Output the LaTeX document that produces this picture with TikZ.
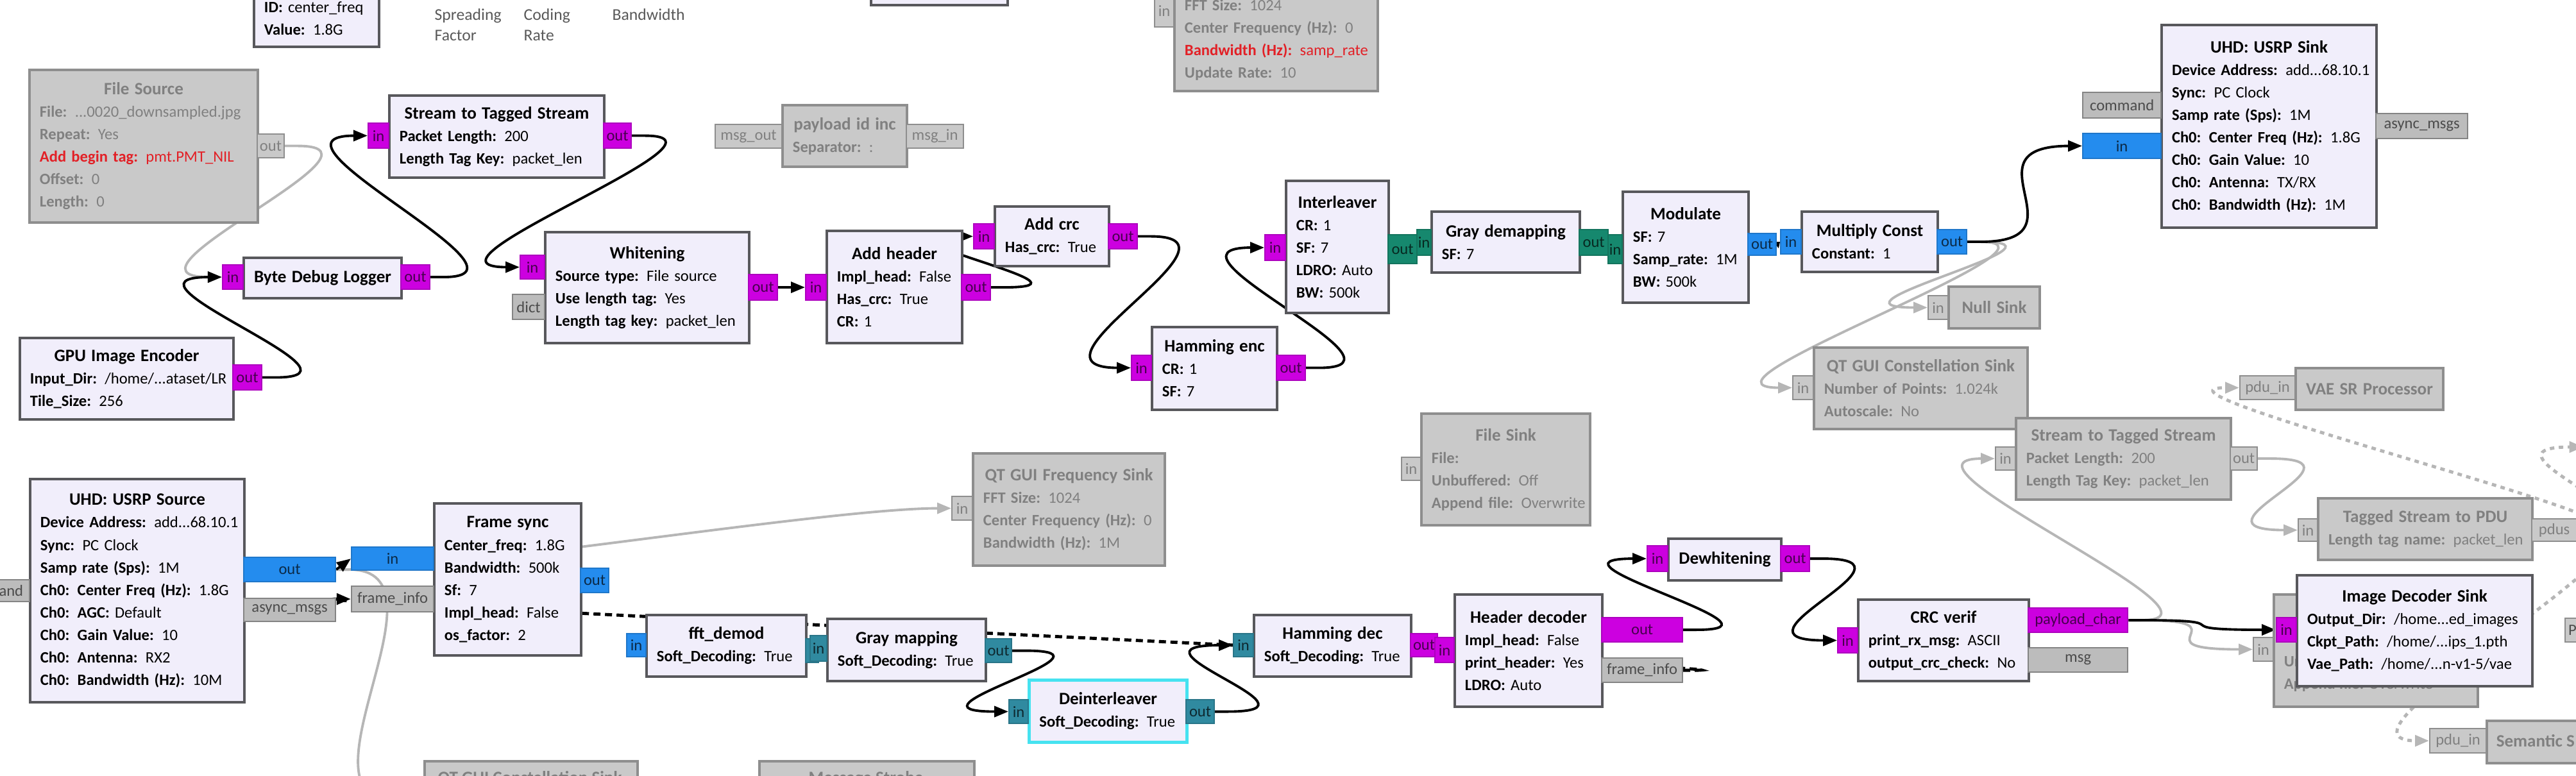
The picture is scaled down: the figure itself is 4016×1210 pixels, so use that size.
\documentclass[tikz,border=0pt]{standalone}
\usepackage{fontspec}
\setmainfont{Carlito}
\usetikzlibrary{arrows.meta,calc,backgrounds}

\definecolor{blkfill}{RGB}{241,238,251}
\definecolor{blkline}{RGB}{88,88,92}
\definecolor{offfill}{RGB}{201,201,201}
\definecolor{offline}{RGB}{142,142,142}
\definecolor{offtext}{RGB}{128,128,128}
\definecolor{bytec}{RGB}{204,0,224}
\definecolor{cplxc}{RGB}{36,140,238}
\definecolor{intc}{RGB}{22,136,110}
\definecolor{shortc}{RGB}{48,138,160}
\definecolor{msgc}{RGB}{188,188,188}
\definecolor{wiregray}{RGB}{182,182,182}
\definecolor{redtxt}{RGB}{226,32,38}
\definecolor{selc}{RGB}{70,226,240}

\newcommand\kv[2]{\mbox{\textbf{#1:} #2}}
\newcommand\ttl[1]{\makebox[\hsize]{\fontsize{7.7}{9.96}\selectfont\bfseries #1}}
\newcommand\blkfont{\fontsize{7}{9.96}\selectfont}

\begin{document}
\begin{tikzpicture}[x=0.01cm,y=-0.01cm,
  blk/.style={draw=blkline, fill=blkfill, line width=1.1pt, inner sep=0pt,
    anchor=north west, align=left, font=\blkfont},
  offblk/.style={blk, draw=offline, fill=offfill, text=offtext},
  bsize/.style 2 args={minimum width=#1cm, minimum height=#2cm, text width=#1cm-0.32cm},
  psz/.style 2 args={minimum width=#1cm, minimum height=#2cm},
  port/.style={inner sep=0pt, anchor=north west, line width=0.6pt, font=\blkfont},
  pbyte/.style={port, fill=bytec, draw=bytec!85!black, text=bytec!35!black},
  pcplx/.style={port, fill=cplxc, draw=cplxc!85!black, text=cplxc!30!black},
  pint/.style={port, fill=intc, draw=intc!85!black, text=intc!30!black},
  pshort/.style={port, fill=shortc, draw=shortc!85!black, text=shortc!30!black},
  pmsg/.style={port, fill=msgc, draw=msgc!70!black, text=black!70},
  poff/.style={port, fill=offfill, draw=offline, text=offtext},
  offtxt/.style={anchor=west, align=left, inner sep=0pt, text=offtext, font=\blkfont},
  note/.style={anchor=west, align=left, inner sep=0pt, text=black!65,
    font=\fontsize{7.3}{9.1}\selectfont},
  wire/.style={draw=black, line width=1.1pt, -{Triangle[length=0.22cm,width=0.17cm]}},
  gwire/.style={wire, draw=wiregray},
  mwire/.style={wire, dash pattern=on 0.11cm off 0.07cm, line width=1.4pt},
  gmwire/.style={gwire, dash pattern=on 0.07cm off 0.07cm, line width=1.4pt}]

\useasboundingbox (0,0) rectangle (4016,1210);
\clip (0,0) rectangle (4016,1210);

\node[note] (lblsf) at (677,39) {Spreading\\Factor};
\node[note] (lblcr) at (816,39) {Coding\\Rate};
\node[note] (lblbw) at (954,23) {Bandwidth};

\node[offblk, bsize={3.56}{2.38}] (fsrc) at (44,107) {\ttl{File Source}\\ \kv{File}{...0020\_downsampled.jpg}\\ \kv{Repeat}{Yes}\\
  \textcolor{redtxt}{\kv{Add begin tag}{pmt.PMT\_NIL}}\\ \kv{Offset}{0}\\ \kv{Length}{0}};
\node[offblk, bsize={1.94}{0.96}] (plid) at (1218,162) {\ttl{payload id inc}\\ \kv{Separator}{:}};
\node[offblk, bsize={3.17}{1.60}] (qtfreqt) at (1829,-20) {\kv{FFT Size}{1024}\\ \kv{Center Frequency (Hz)}{0}\\
  \textcolor{redtxt}{\kv{Bandwidth (Hz)}{samp\_rate}}\\ \kv{Update Rate}{10}};
\node[offblk, bsize={1.42}{0.65}] (nullsink) at (3036,445) {\ttl{Null Sink}};
\node[offblk, bsize={3.33}{1.27}] (qtconst) at (2826,540) {\ttl{QT GUI Constellation Sink}\\ \kv{Number of Points}{1.024k}\\ \kv{Autoscale}{No}};
\node[offblk, bsize={3.35}{1.27}] (sts2) at (3141,650) {\ttl{Stream to Tagged Stream}\\ \kv{Packet Length}{200}\\ \kv{Length Tag Key}{packet\_len}};
\node[offblk, bsize={2.30}{0.65}] (vaesr) at (3577,572) {\ttl{VAE SR Processor}};
\node[offblk, bsize={3.34}{0.96}] (ts2pdu) at (3612,775) {\ttl{Tagged Stream to PDU}\\ \kv{Length tag name}{packet\_len}};
\node[offblk, bsize={2.63}{1.74}] (fsink1) at (2214,643) {\ttl{File Sink}\\ \kv{File}{}\\ \kv{Unbuffered}{Off}\\ \kv{Append file}{Overwrite}};
\node[offblk, bsize={2.99}{1.75}] (qtfreq2) at (1515,705) {\ttl{QT GUI Frequency Sink}\\ \kv{FFT Size}{1024}\\
  \kv{Center Frequency (Hz)}{0}\\ \kv{Bandwidth (Hz)}{1M}};
\node[offblk, bsize={3.32}{0.80}] (qtc2) at (660,1185) {};
\node[offtxt, anchor=center, font=\fontsize{7.7}{9.96}\selectfont\bfseries] (qtc2-t) at (826,1214) {QT GUI Constellation Sink};
\node[offblk, bsize={3.35}{0.80}] (msgstr) at (1182,1185) {};
\node[offtxt, anchor=center, font=\fontsize{7.7}{9.96}\selectfont\bfseries] (msgstr-t) at (1350,1214) {Message Strobe};
\node[offblk, bsize={3.18}{1.75}] (fsink2) at (3543,925) {};
\node[offtxt] (fsink2-t) at (3560,1050) {\kv{Unbuffered}{Off}\\ \kv{Append file}{Overwrite}};
\node[offblk, bsize={2.00}{0.66}] (semantic) at (3875,1122) {};
\node[offtxt, font=\fontsize{7.7}{9.96}\selectfont\bfseries] (semantic-t) at (3891,1155) {Semantic S};
\node[poff, text=black!70, minimum height=0.37cm, text width=0.3cm, align=left] (pcut) at (3998,963) {\hspace{0.05cm}P};

\node[poff, psz={0.42}{0.37}] (fsrc-out) at (400,208) {out};
\node[poff, psz={1.04}{0.37}] (plid-out) at (1114,193) {msg\_out};
\node[poff, psz={0.89}{0.37}] (plid-in) at (1412,193) {msg\_in};
\node[poff, psz={0.30}{0.51}] (qtfreqt-in) at (1799,-10) {in};
\node[poff, psz={0.31}{0.37}] (null-in) at (3005,460) {in};
\node[poff, psz={0.32}{0.37}] (qtconst-in) at (2794,585) {in};
\node[poff, psz={0.31}{0.36}] (sts2-in) at (3110,696) {in};
\node[poff, psz={0.42}{0.36}] (sts2-out) at (3476,696) {out};
\node[poff, psz={0.86}{0.37}] (vaesr-in) at (3491,585) {pdu\_in};
\node[poff, psz={0.30}{0.35}] (ts2pdu-in) at (3582,808) {in};
\node[poff, psz={0.70}{0.35}] (ts2pdu-pdus) at (3946,808) {pdus};
\node[poff, psz={0.88}{0.38}] (semantic-in) at (3787,1135) {pdu\_in};
\node[poff, psz={0.31}{0.37}] (fsink2-in) at (3512,993) {in};
\node[poff, psz={0.30}{0.36}] (fsink1-in) at (2184,712) {in};
\node[poff, psz={0.32}{0.37}] (qtfreq2-in) at (1483,773) {in};
\node[inner sep=0pt] (qtc2in) at (640,1250) {};
\node[inner sep=0pt] (rcut) at (4030,697) {};

\node[blk, bsize={1.95}{0.88}] (varcf) at (394,-17) {\kv{ID}{center\_freq}\\ \kv{Value}{1.8G}};
\node[blk, bsize={2.13}{0.66}] (topbox) at (1356,-60) {};
\node[blk, bsize={3.35}{1.28}] (sts) at (605,147) {\ttl{Stream to Tagged Stream}\\ \kv{Packet Length}{200}\\ \kv{Length Tag Key}{packet\_len}};
\node[blk, bsize={2.46}{0.63}] (bdl) at (378,400) {\ttl{Byte Debug Logger}};
\node[blk, bsize={3.33}{1.27}] (gpu) at (29,525) {\ttl{GPU Image Encoder}\\ \kv{Input\_Dir}{/home/...ataset/LR}\\ \kv{Tile\_Size}{256}};
\node[blk, bsize={3.18}{1.73}] (white) at (848,360) {\ttl{Whitening}\\ \kv{Source type}{File source}\\ \kv{Use length tag}{Yes}\\ \kv{Length tag key}{packet\_len}};
\node[blk, bsize={2.11}{1.75}] (addh) at (1287,358) {\ttl{Add header}\\ \kv{Impl\_head}{False}\\ \kv{Has\_crc}{True}\\ \kv{CR}{1}};
\node[blk, bsize={1.78}{0.93}] (addcrc) at (1549,320) {\ttl{Add crc}\\ \kv{Has\_crc}{True}};
\node[blk, bsize={1.95}{1.29}] (hamenc) at (1794,508) {\ttl{Hamming enc}\\ \kv{CR}{1}\\ \kv{SF}{7}};
\node[blk, bsize={1.60}{2.06}] (inter) at (2003,280) {\ttl{Interleaver}\\ \kv{CR}{1}\\ \kv{SF}{7}\\ \kv{LDRO}{Auto}\\ \kv{BW}{500k}};
\node[blk, bsize={2.31}{0.95}] (graydm) at (2230,328) {\ttl{Gray demapping}\\ \kv{SF}{7}};
\node[blk, bsize={1.96}{1.73}] (mod) at (2528,297) {\ttl{Modulate}\\ \kv{SF}{7}\\ \kv{Samp\_rate}{1M}\\ \kv{BW}{500k}};
\node[blk, bsize={2.12}{0.94}] (mulc) at (2807,328) {\ttl{Multiply Const}\\ \kv{Constant}{1}};
\node[blk, bsize={3.35}{3.16}] (usrpsink) at (3368,37) {\ttl{UHD: USRP Sink}\\ \kv{Device Address}{add...68.10.1}\\ \kv{Sync}{PC Clock}\\
  \kv{Samp rate (Sps)}{1M}\\ \kv{Ch0: Center Freq (Hz)}{1.8G}\\ \kv{Ch0: Gain Value}{10}\\ \kv{Ch0: Antenna}{TX/RX}\\ \kv{Ch0: Bandwidth (Hz)}{1M}};
\node[blk, bsize={3.34}{3.48}] (usrpsrc) at (45,745) {\ttl{UHD: USRP Source}\\ \kv{Device Address}{add...68.10.1}\\ \kv{Sync}{PC Clock}\\
  \kv{Samp rate (Sps)}{1M}\\ \kv{Ch0: Center Freq (Hz)}{1.8G}\\ \kv{Ch0: AGC}{Default}\\ \kv{Ch0: Gain Value}{10}\\
  \kv{Ch0: Antenna}{RX2}\\ \kv{Ch0: Bandwidth (Hz)}{10M}};
\node[blk, bsize={2.29}{2.37}] (fsync) at (675,783) {\ttl{Frame sync}\\ \kv{Center\_freq}{1.8G}\\ \kv{Bandwidth}{500k}\\ \kv{Sf}{7}\\
  \kv{Impl\_head}{False}\\ \kv{os\_factor}{2}};
\node[blk, bsize={2.49}{0.96}] (fft) at (1006,957) {\ttl{fft\_demod}\\ \kv{Soft\_Decoding}{True}};
\node[blk, bsize={2.47}{0.97}] (graym) at (1288,963) {\ttl{Gray mapping}\\ \kv{Soft\_Decoding}{True}};
\node[blk, draw=selc, line width=1.4pt, bsize={2.46}{0.97}] (deint) at (1602,1058) {\ttl{Deinterleaver}\\ \kv{Soft\_Decoding}{True}};
\node[blk, bsize={2.45}{0.96}] (hamdec) at (1953,957) {\ttl{Hamming dec}\\ \kv{Soft\_Decoding}{True}};
\node[blk, bsize={2.30}{1.75}] (hdec) at (2266,925) {\ttl{Header decoder}\\ \kv{Impl\_head}{False}\\ \kv{print\_header}{Yes}\\ \kv{LDRO}{Auto}};
\node[blk, bsize={1.76}{0.65}] (dewh) at (2599,838) {\ttl{Dewhitening}};
\node[blk, bsize={2.66}{1.27}] (crc) at (2895,933) {\ttl{CRC verif}\\ \kv{print\_rx\_msg}{ASCII}\\ \kv{output\_crc\_check}{No}};
\node[blk, bsize={3.67}{1.73}] (imgdec) at (3579,895) {\ttl{Image Decoder Sink}\\ \kv{Output\_Dir}{/home...ed\_images}\\
  \kv{Ckpt\_Path}{/home/...ips\_1.pth}\\ \kv{Vae\_Path}{/home/...n-v1-5/vae}};

\node[pbyte, psz={0.32}{0.39}] (sts-in) at (573,191) {in};
\node[pbyte, psz={0.43}{0.39}] (sts-out) at (940,191) {out};
\node[pbyte, psz={0.32}{0.38}] (bdl-in) at (346,412) {in};
\node[pbyte, psz={0.45}{0.38}] (bdl-out) at (624,412) {out};
\node[pbyte, psz={0.45}{0.39}] (gpu-out) at (362,568) {out};
\node[pbyte, psz={0.38}{0.37}] (white-in) at (810,397) {in};
\node[pmsg, psz={0.50}{0.39}] (white-dict) at (798,458) {dict};
\node[pbyte, psz={0.45}{0.40}] (white-out) at (1166,427) {out};
\node[pbyte, psz={0.32}{0.40}] (addh-in) at (1255,427) {in};
\node[pbyte, psz={0.45}{0.40}] (addh-out) at (1498,427) {out};
\node[pbyte, psz={0.32}{0.39}] (addcrc-in) at (1517,348) {in};
\node[pbyte, psz={0.45}{0.39}] (addcrc-out) at (1727,348) {out};
\node[pbyte, psz={0.31}{0.39}] (hamenc-in) at (1763,553) {in};
\node[pbyte, psz={0.45}{0.39}] (hamenc-out) at (1989,553) {out};
\node[pbyte, psz={0.32}{0.40}] (inter-in) at (1971,365) {in};
\node[pint, psz={0.45}{0.45}] (inter-out) at (2163,365) {out};
\node[pint, psz={0.22}{0.40}] (graydm-in) at (2208,357) {in};
\node[pint, psz={0.45}{0.40}] (graydm-out) at (2461,357) {out};
\node[pint, psz={0.22}{0.45}] (mod-in) at (2506,365) {in};
\node[pcplx, psz={0.44}{0.34}] (mod-out) at (2724,363) {out};
\node[pcplx, psz={0.32}{0.38}] (mulc-in) at (2775,357) {in};
\node[pcplx, psz={0.46}{0.38}] (mulc-out) at (3019,357) {out};
\node[pmsg, psz={1.22}{0.40}] (usrpsink-cmd) at (3246,143) {command};
\node[pcplx, psz={1.22}{0.39}] (usrpsink-in) at (3246,207) {in};
\node[pmsg, psz={1.43}{0.39}] (usrpsink-async) at (3703,176) {async\_msgs};
\node[pmsg, psz={1.20}{0.34}] (usrpsrc-cmd) at (-75,903) {command};
\node[pcplx, psz={1.43}{0.38}] (usrpsrc-out) at (379,868) {out};
\node[pmsg, psz={1.43}{0.36}] (usrpsrc-async) at (379,932) {async\_msgs};
\node[pcplx, psz={1.28}{0.36}] (fsync-in) at (547,852) {in};
\node[pmsg, psz={1.28}{0.40}] (fsync-fi) at (547,913) {frame\_info};
\node[pcplx, psz={0.44}{0.38}] (fsync-out) at (904,885) {out};
\node[pcplx, psz={0.30}{0.36}] (fft-in) at (976,987) {in};
\node[pshort, psz={0.20}{0.37}] (fft-out) at (1255,995) {};
\node[pshort, psz={0.26}{0.40}] (graym-in) at (1262,990) {in};
\node[pshort, psz={0.41}{0.37}] (graym-out) at (1535,995) {out};
\node[pshort, psz={0.30}{0.37}] (deint-in) at (1572,1090) {in};
\node[pshort, psz={0.44}{0.37}] (deint-out) at (1848,1090) {out};
\node[pshort, psz={0.31}{0.36}] (hamdec-in) at (1922,987) {in};
\node[pbyte, psz={0.42}{0.36}] (hamdec-out) at (2198,987) {out};
\node[pbyte, psz={0.30}{0.39}] (hdec-in) at (2236,993) {in};
\node[pbyte, psz={1.26}{0.38}] (hdec-out) at (2496,962) {out};
\node[pmsg, psz={1.26}{0.38}] (hdec-fi) at (2496,1025) {frame\_info};
\node[pbyte, psz={0.32}{0.40}] (dewh-in) at (2567,850) {in};
\node[pbyte, psz={0.45}{0.40}] (dewh-out) at (2775,850) {out};
\node[pbyte, psz={0.31}{0.39}] (crc-in) at (2864,978) {in};
\node[pbyte, psz={1.55}{0.38}] (crc-pc) at (3161,947) {payload\_char};
\node[pmsg, psz={1.55}{0.38}] (crc-msg) at (3161,1009) {msg};
\node[pbyte, psz={0.31}{0.38}] (imgdec-in) at (3548,962) {in};

\begin{scope}[on background layer]
\clip (0,0) rectangle (4016,1210);
\fill[white] (0,0) rectangle (4016,1210);

\foreach \a/\b in {fsrc-out/bdl-in, usrpsrc-out/qtfreq2-in, usrpsrc-out/qtc2in,
    mulc-out/null-in, mulc-out/qtconst-in, crc-pc/sts2-in, crc-pc/fsink2-in, sts2-out/ts2pdu-in}
  \draw[gwire] (\a.east) -- ++(20,0) .. controls +(170,0) and +(-170,0) .. ($(\b.west)+(-20,0)$) -- (\b.west);

\foreach \b in {vaesr-in, rcut, semantic-in}
  \draw[gmwire] (ts2pdu-pdus.east) -- ++(20,0) .. controls +(170,0) and +(-170,0) .. ($(\b.west)+(-20,0)$) -- (\b.west);

\draw[mwire] (hdec-fi.east) -- ++(20,0) .. controls +(170,0) and +(-170,0) .. ($(fsync-fi.west)+(-20,0)$) -- (fsync-fi.west);

\foreach \a/\b in {gpu-out/bdl-in, bdl-out/sts-in, sts-out/white-in,
    addh-out/addcrc-in, addcrc-out/hamenc-in, hamenc-out/inter-in,
    mulc-out/usrpsink-in, graym-out/deint-in, deint-out/hamdec-in,
    hdec-out/dewh-in, dewh-out/crc-in, crc-pc/imgdec-in}
  \draw[wire] (\a.east) -- ++(20,0) .. controls +(170,0) and +(-170,0) .. ($(\b.west)+(-20,0)$) -- (\b.west);

\draw[wire] (white-out.east) -- (addh-in.west);
\draw[wire] (usrpsrc-out.east) -- (fsync-in.west);
\draw[wire, -{Triangle[length=0.08cm,width=0.12cm]}] (mod-out.east) -- (mulc-in.west);
\end{scope}

\end{tikzpicture}
\end{document}
